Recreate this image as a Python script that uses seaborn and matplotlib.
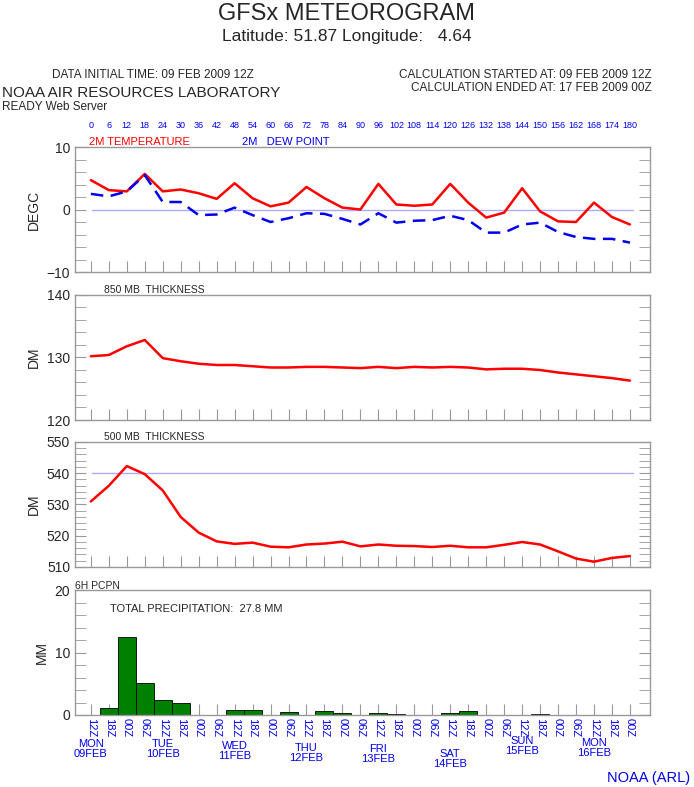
import numpy as np
import pandas as pd
import matplotlib
matplotlib.use("Agg")
import matplotlib.pyplot as plt
import seaborn as sns

# ---- data ----
hours = list(range(0, 181, 6))
temp = [4.7, 3.1, 2.9, 5.7, 2.9, 3.2, 2.6, 1.7, 4.2, 1.8, 0.5, 1.1, 3.6, 1.8, 0.3, 0.0,
        4.1, 0.8, 0.6, 0.8, 4.1, 1.1, -1.3, -0.5, 3.4, -0.3, -1.9, -2.0, 1.1, -1.2, -2.4]
dewp = [2.5, 2.1, 2.9, 5.5, 1.2, 1.2, -0.9, -0.8, 0.3, -0.9, -2.0, -1.4, -0.6, -0.7, -1.5, -2.4,
        -0.6, -2.1, -1.8, -1.7, -1.0, -1.7, -3.7, -3.7, -2.4, -2.1, -3.6, -4.4, -4.7, -4.7, -5.3]
thk850 = [130.2, 130.4, 131.8, 132.8, 129.9, 129.4, 129.0, 128.8, 128.8, 128.6, 128.4, 128.4,
          128.5, 128.5, 128.4, 128.3, 128.5, 128.3, 128.5, 128.4, 128.5, 128.4, 128.1, 128.2,
          128.2, 128.0, 127.6, 127.3, 127.0, 126.7, 126.3]
thk500 = [531.0, 536.0, 542.3, 539.7, 534.5, 526.0, 521.0, 518.2, 517.4, 517.8, 516.5, 516.3,
          517.2, 517.5, 518.1, 516.6, 517.2, 516.8, 516.7, 516.4, 516.8, 516.3, 516.3, 517.1,
          518.0, 517.2, 515.0, 512.7, 511.7, 512.9, 513.5]
pcpn = [0, 1.2, 12.5, 5.1, 2.4, 1.9, 0, 0, 0.8, 0.8, 0, 0.5, 0, 0.7, 0.3, 0, 0.3, 0.1,
        0, 0, 0.4, 0.6, 0, 0, 0, 0.2, 0, 0, 0, 0, 0]
utc_labels = ["12Z", "18Z", "00Z", "06Z"] * 8
day_labels = ["MON\n09FEB", "TUE\n10FEB", "WED\n11FEB", "THU\n12FEB",
              "FRI\n13FEB", "SAT\n14FEB", "SUN\n15FEB", "MON\n16FEB"]

df = pd.DataFrame({"hour": hours, "temp": temp, "dewp": dewp,
                   "thk850": thk850, "thk500": thk500, "pcpn": pcpn})

sns.set_style("white")
plt.rcParams["font.family"] = ["Liberation Sans", "DejaVu Sans"]

fig = plt.figure(figsize=(6.94, 7.87), dpi=100)
W, H = 694, 787
left, right = 75 / W, 650 / W
panels = [(147, 272), (295, 420), (442, 567), (590, 715)]
axes = []
for top, bot in panels:
    axes.append(fig.add_axes([left, 1 - bot / H, right - left, (bot - top) / H]))

xlim = (-5.3, 186.7)
blue = "#0000ee"

def style(ax, ylo, yhi, major, minor, ylabel):
    ax.set_xlim(*xlim)
    ax.set_ylim(ylo, yhi)
    ax.set_yticks(np.arange(ylo, yhi + 0.01, major))
    ax.set_yticks(np.arange(ylo, yhi + 0.01, minor), minor=True)
    ax.tick_params(axis="y", which="both", direction="in", right=True, left=True,
                   color="#999999", labelsize=10, length=8)
    ax.set_xticks(hours)
    ax.tick_params(axis="x", which="both", direction="in", bottom=True, color="#999999",
                   length=8, labelbottom=False)
    for s in ax.spines.values():
        s.set_color("#999999")
        s.set_linewidth(1)
    ax.set_ylabel(ylabel, fontsize=10)
    ax.set_xlabel("")

# temperature panel
ax = axes[0]
ax.axhline(0, color="#aaaaff", lw=1, xmin=0.03, xmax=0.97)
sns.lineplot(data=df, x="hour", y="temp", ax=ax, color="red", lw=1.8)
sns.lineplot(data=df, x="hour", y="dewp", ax=ax, color=blue, lw=1.8)
ax.lines[-1].set_linestyle((0, (5, 3)))
style(ax, -10, 10, 10, 2, "DEGC")
ax.text(0.025, 1.02, "2M TEMPERATURE", color="red", fontsize=8, transform=ax.transAxes)
ax.text(0.29, 1.02, "2M   DEW POINT", color=blue, fontsize=8, transform=ax.transAxes)
for h in hours:
    ax.text(h, 1.15, str(h), color=blue, fontsize=6.5, ha="center",
            transform=ax.get_xaxis_transform())

# 850 thickness
ax = axes[1]
sns.lineplot(data=df, x="hour", y="thk850", ax=ax, color="red", lw=1.8)
style(ax, 120, 140, 10, 2, "DM")
ax.text(0.05, 1.02, "850 MB  THICKNESS", fontsize=7.5, transform=ax.transAxes)

# 500 thickness
ax = axes[2]
ax.axhline(540, color="#aaaaff", lw=1, xmin=0.03, xmax=0.97)
sns.lineplot(data=df, x="hour", y="thk500", ax=ax, color="red", lw=1.8)
style(ax, 510, 550, 10, 2, "DM")
ax.text(0.05, 1.02, "500 MB  THICKNESS", fontsize=7.5, transform=ax.transAxes)

# precipitation
ax = axes[3]
ax.bar(df["hour"], df["pcpn"], width=6, color="green", edgecolor="black", lw=0.6)
style(ax, 0, 20, 10, 2, "MM")
ax.text(0.0, 1.01, "6H PCPN", fontsize=7.5, transform=ax.transAxes)
ax.text(0.06, 0.82, f"TOTAL PRECIPITATION:  {sum(pcpn):.1f} MM", fontsize=8,
        transform=ax.transAxes)
for h, lab in zip(hours, utc_labels):
    ax.text(h, -0.5, lab, rotation=-90, color=blue, fontsize=8, ha="center", va="top")
day_tops = [739, 739, 741, 743, 744, 749, 736, 738]
for i, lab in enumerate(day_labels):
    ax.text(i * 24, -(day_tops[i] - 715) * 0.16, lab, color=blue, fontsize=8,
            ha="center", va="top", linespacing=0.95)

fig.text(0.5, 0.975, "GFSx METEOROGRAM", ha="center", fontsize=17)
fig.text(0.5, 0.948, "Latitude: 51.87 Longitude:   4.64", ha="center", fontsize=12.5)
fig.text(52 / W, 1 - 78 / H, "DATA INITIAL TIME: 09 FEB 2009 12Z", fontsize=8.5)
fig.text(652 / W, 1 - 78 / H, "CALCULATION STARTED AT: 09 FEB 2009 12Z", fontsize=8.5, ha="right")
fig.text(652 / W, 1 - 91 / H, "CALCULATION ENDED AT: 17 FEB 2009 00Z", fontsize=8.5, ha="right")
fig.text(2 / W, 1 - 97 / H, "NOAA AIR RESOURCES LABORATORY", fontsize=11)
fig.text(2 / W, 1 - 110 / H, "READY Web Server", fontsize=8.5)
fig.text(690 / W, 1 - 782 / H, "NOAA (ARL)", fontsize=10.5, color=blue, ha="right")

fig.savefig("out.png", dpi=100)
